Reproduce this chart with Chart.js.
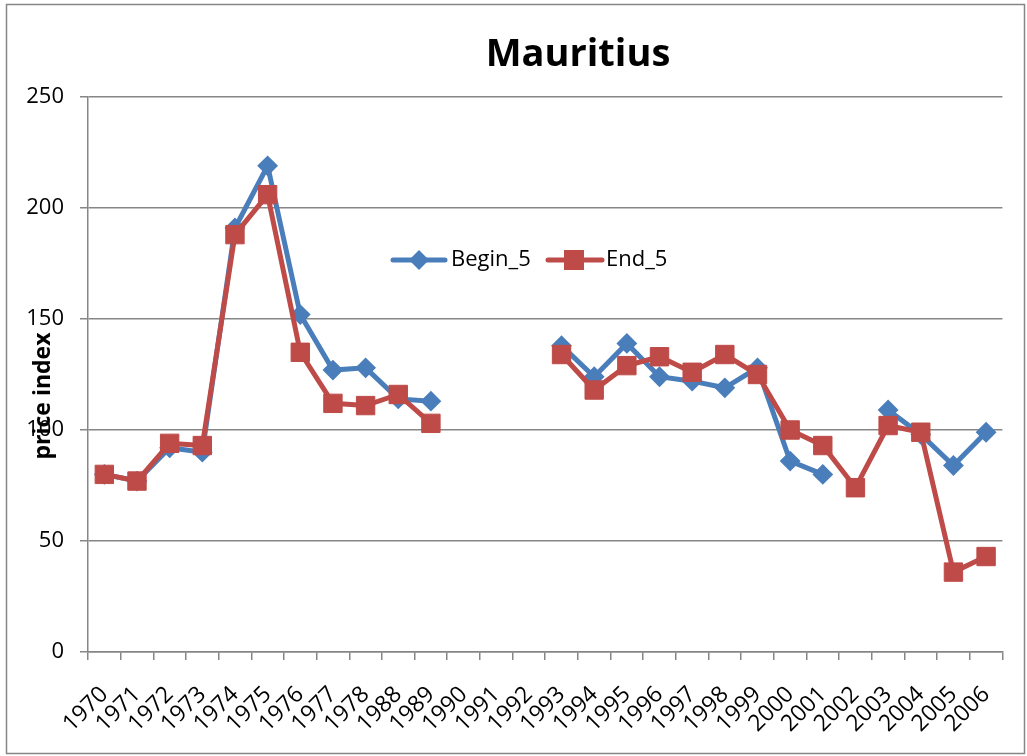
<!DOCTYPE html>
<html>
<head>
<meta charset="utf-8">
<script src="https://cdn.jsdelivr.net/npm/chart.js@4"></script>
<style>
html,body{margin:0;padding:0;background:#fff;}
#wrap{width:1027px;height:756px;position:relative;}
</style>
</head>
<body>
<div id="wrap"><canvas id="c" width="1027" height="756"></canvas></div>
<script>
const categories = ['1970','1971','1972','1973','1974','1975','1976','1977','1978','1988','1989','1990','1991','1992','1993','1994','1995','1996','1997','1998','1999','2000','2001','2002','2003','2004','2005','2006'];
const begin5 = [80, 77, 92, 90, 191, 219, 152, 127, 128, 114, 113, null, null, null, 138, 124, 139, 124, 122, 119, 128, 86, 80, null, 109, 98, 84, 99];
const end5 = [80, 77, 94, 93, 188, 206, 135, 112, 111, 116, 103, null, null, null, 134, 118, 129, 133, 126, 134, 125, 100, 93, 74, 102, 99, 36, 43];
const yTicks = [0, 50, 100, 150, 200, 250];
const seriesNames = ['Begin_5', 'End_5'];
const chartTitle = 'Mauritius';
const yTitle = 'price index';

const BLUE = '#4a7ebb';
const RED = '#be4b48';
const GRID = '#868686';
const FONT = "'Open Sans', 'DejaVu Sans', sans-serif";

const decor = {
  id: 'decor',
  afterDraw(chart) {
    const ctx = chart.ctx;
    ctx.save();
    ctx.strokeStyle = GRID;
    ctx.lineWidth = 1.5;
    ctx.strokeRect(6.5, 4.5, 1018, 749);
    ctx.fillStyle = '#000';
    ctx.font = "bold 38px " + FONT;
    ctx.textAlign = 'center';
    ctx.textBaseline = 'middle';
    ctx.fillText(chartTitle, 578, 55);
    ctx.save();
    ctx.translate(43, 396);
    ctx.rotate(-Math.PI / 2);
    ctx.font = "bold 23px " + FONT;
    ctx.fillText(yTitle, 0, 0);
    ctx.restore();
    const ly = 260;
    ctx.lineCap = 'round';
    ctx.lineWidth = 5;
    ctx.strokeStyle = BLUE;
    ctx.beginPath(); ctx.moveTo(393, ly); ctx.lineTo(445, ly); ctx.stroke();
    ctx.fillStyle = BLUE;
    ctx.beginPath();
    ctx.moveTo(419 - 10, ly); ctx.lineTo(419, ly - 10); ctx.lineTo(419 + 10, ly); ctx.lineTo(419, ly + 10); ctx.closePath(); ctx.fill();
    ctx.strokeStyle = RED;
    ctx.beginPath(); ctx.moveTo(548, ly); ctx.lineTo(602, ly); ctx.stroke();
    ctx.fillStyle = RED;
    ctx.fillRect(574 - 10, ly - 10, 20, 20);
    ctx.fillStyle = '#000';
    ctx.font = "22px " + FONT;
    ctx.textAlign = 'left';
    ctx.fillText(seriesNames[0], 451, ly);
    ctx.fillText(seriesNames[1], 606, ly);
    ctx.restore();
  }
};

new Chart(document.getElementById('c'), {
  type: 'line',
  data: {
    labels: categories,
    datasets: [
      {
        label: seriesNames[0],
        data: begin5,
        borderColor: BLUE,
        backgroundColor: BLUE,
        borderWidth: 5,
        pointStyle: 'rectRot',
        pointRadius: 9,
        pointBorderWidth: 2,
        pointBackgroundColor: BLUE,
        pointBorderColor: BLUE,
        tension: 0,
        spanGaps: false,
        order: 2
      },
      {
        label: seriesNames[1],
        data: end5,
        borderColor: RED,
        backgroundColor: RED,
        borderWidth: 5,
        pointStyle: 'rect',
        pointRadius: 13,
        pointBorderWidth: 1,
        pointBackgroundColor: RED,
        pointBorderColor: RED,
        tension: 0,
        spanGaps: false,
        order: 1
      }
    ]
  },
  options: {
    responsive: false,
    animation: false,
    devicePixelRatio: 1,
    layout: { padding: { top: 97, right: 22, left: 0, bottom: 0 } },
    plugins: {
      legend: { display: false },
      title: { display: false },
      tooltip: { enabled: false }
    },
    scales: {
      x: {
        type: 'category',
        offset: true,
        grid: { offset: true, drawOnChartArea: false, drawTicks: true, tickLength: 8, color: GRID, lineWidth: 1.5 },
        border: { color: GRID, width: 1.5 },
        ticks: { autoSkip: false, minRotation: 45, maxRotation: 45, color: '#000', font: { family: FONT, size: 23 }, padding: 21 },
        afterFit: s => { s.height = 104; }
      },
      y: {
        min: 0,
        max: 250,
        afterBuildTicks: s => { s.ticks = yTicks.map(v => ({ value: v })); },
        grid: { color: GRID, lineWidth: 1.5, tickLength: 8, drawTicks: true },
        border: { color: GRID, width: 1.5 },
        ticks: { color: '#000', font: { family: FONT, size: 22 }, padding: 16 },
        afterFit: s => { s.width = 88; }
      }
    }
  },
  plugins: [decor]
});
</script>
</body>
</html>
